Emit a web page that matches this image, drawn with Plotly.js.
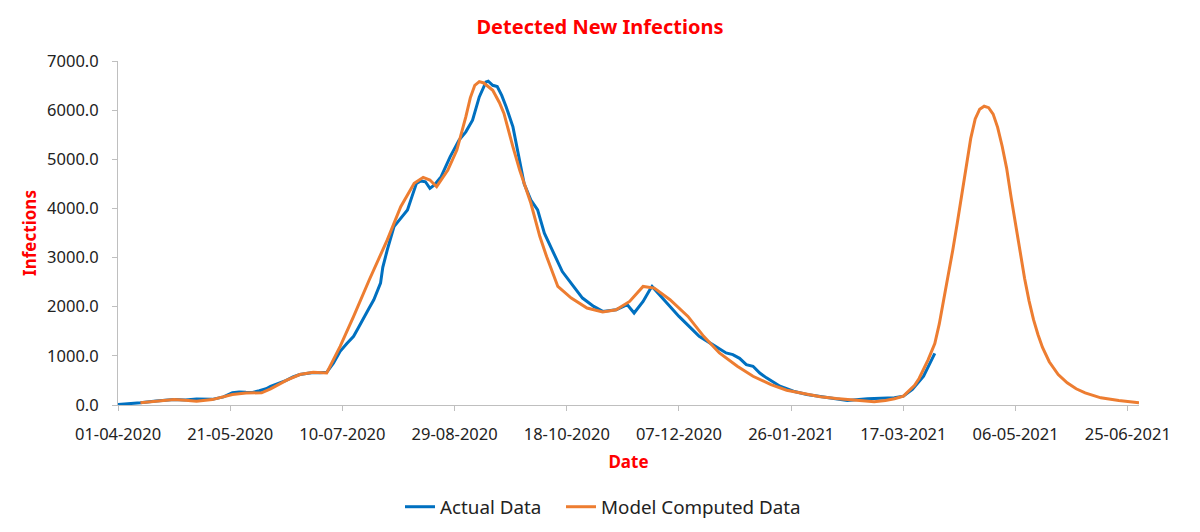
<!DOCTYPE html>
<html>
<head>
<meta charset="utf-8">
<script src="https://cdn.plot.ly/plotly-3.0.1.min.js"></script>
<style>html,body{margin:0;padding:0;background:#fff;}#chart{width:1200px;height:532px;}</style>
</head>
<body>
<div id="chart"></div>
<script>
// Actual data (blue)
const actualDates = [
 "2020-04-01","2020-04-06","2020-04-11","2020-04-18","2020-04-26","2020-05-01","2020-05-06","2020-05-13","2020-05-18","2020-05-22",
 "2020-05-25","2020-05-28","2020-05-31","2020-06-03","2020-06-06","2020-06-08","2020-06-12","2020-06-15","2020-06-18","2020-06-21",
 "2020-06-24","2020-06-27","2020-06-30","2020-07-03","2020-07-06","2020-07-09","2020-07-12","2020-07-15","2020-07-17","2020-07-19",
 "2020-07-22","2020-07-24","2020-07-27","2020-07-28","2020-07-30","2020-08-02","2020-08-05","2020-08-08","2020-08-10","2020-08-12",
 "2020-08-14","2020-08-16","2020-08-18","2020-08-20","2020-08-23","2020-08-27","2020-08-31","2020-09-03","2020-09-06","2020-09-09",
 "2020-09-12","2020-09-13","2020-09-15","2020-09-17","2020-09-19","2020-09-21","2020-09-24","2020-09-27","2020-09-29","2020-10-02",
 "2020-10-05","2020-10-08","2020-10-12","2020-10-16","2020-10-21","2020-10-25","2020-10-30","2020-11-03","2020-11-09","2020-11-14",
 "2020-11-17","2020-11-21","2020-11-24","2020-11-25","2020-11-29","2020-12-03","2020-12-07","2020-12-13","2020-12-16","2020-12-22",
 "2020-12-28","2020-12-31","2021-01-03","2021-01-06","2021-01-09","2021-01-12","2021-01-15","2021-01-21","2021-01-27","2021-02-02",
 "2021-02-11","2021-02-20","2021-03-01","2021-03-07","2021-03-13","2021-03-17","2021-03-21","2021-03-26","2021-03-31"
];
const actualValues = [
 10,20,45,80,110,100,120,115,165,248,
 265,258,255,290,330,380,440,500,570,620,
 640,660,655,665,850,1092,1250,1397,1560,1736,
 1980,2142,2480,2800,3157,3630,3800,3969,4240,4511,
 4560,4543,4409,4480,4645,5050,5390,5558,5796,6269,
 6573,6590,6506,6480,6300,6066,5660,4917,4500,4172,
 3969,3495,3090,2716,2412,2176,2006,1904,1939,2040,
 1872,2107,2345,2412,2209,2006,1803,1533,1397,1228,
 1060,1025,950,822,788,650,552,382,280,213,
 146,91,126,130,146,179,315,585,1050
];

// Model computed data (orange)
const modelDates = [
 "2020-04-11","2020-04-18","2020-04-26","2020-05-01","2020-05-06","2020-05-13","2020-05-18","2020-05-22","2020-05-28","2020-06-04",
 "2020-06-08","2020-06-15","2020-06-21","2020-06-27","2020-07-03","2020-07-09","2020-07-15","2020-07-22","2020-07-30","2020-08-05",
 "2020-08-11","2020-08-15","2020-08-18","2020-08-21","2020-08-26","2020-08-30","2020-09-03","2020-09-05","2020-09-07","2020-09-09",
 "2020-09-11","2020-09-13","2020-09-15","2020-09-18","2020-09-20","2020-09-24","2020-09-27","2020-10-02","2020-10-06","2020-10-09",
 "2020-10-14","2020-10-20","2020-10-27","2020-11-03","2020-11-09","2020-11-15","2020-11-21","2020-11-26","2020-12-03","2020-12-11",
 "2020-12-18","2020-12-25","2021-01-02","2021-01-09","2021-01-17","2021-01-24","2021-02-01","2021-02-08","2021-02-15","2021-02-23",
 "2021-03-04","2021-03-09","2021-03-13","2021-03-17","2021-03-20","2021-03-22","2021-03-24","2021-03-26","2021-03-28","2021-03-31",
 "2021-04-02","2021-04-04","2021-04-06","2021-04-08","2021-04-10","2021-04-12","2021-04-14","2021-04-16","2021-04-18","2021-04-20",
 "2021-04-22","2021-04-24","2021-04-26","2021-04-28","2021-04-30","2021-05-02","2021-05-04","2021-05-06","2021-05-08","2021-05-10",
 "2021-05-12","2021-05-14","2021-05-16","2021-05-18","2021-05-21","2021-05-25","2021-05-29","2021-06-02","2021-06-06","2021-06-13",
 "2021-06-21","2021-06-30"
];
const modelValues = [
 45,75,110,95,77,110,160,215,245,248,
 330,500,620,667,653,1194,1803,2548,3360,4036,
 4511,4632,4578,4442,4781,5187,5863,6250,6506,6580,
 6553,6480,6405,6150,5932,5254,4781,4105,3427,3021,
 2412,2176,1973,1892,1939,2107,2412,2379,2142,1803,
 1397,1060,788,585,416,301,233,166,130,97,
 65,90,126,179,300,400,540,721,920,1250,
 1650,2150,2620,3150,3700,4300,4870,5420,5820,6020,
 6080,6050,5920,5650,5270,4820,4230,3650,3100,2580,
 2120,1736,1430,1170,880,620,451,330,248,146,
 91,45
];

// Axis ticks
const xTickDates = ["2020-04-01","2020-05-21","2020-07-10","2020-08-29","2020-10-18","2020-12-07","2021-01-26","2021-03-17","2021-05-06","2021-06-25"];
const xTickLabels = ["01-04-2020","21-05-2020","10-07-2020","29-08-2020","18-10-2020","07-12-2020","26-01-2021","17-03-2021","06-05-2021","25-06-2021"];
const yTickValues = [0,1000,2000,3000,4000,5000,6000,7000];
const yTickLabels = ["0.0","1000.0","2000.0","3000.0","4000.0","5000.0","6000.0","7000.0"];

const FONT = "Noto Sans, Liberation Sans, sans-serif";

const traces = [
 {x: actualDates, y: actualValues, type: "scatter", mode: "lines", name: "Actual Data",
  line: {color: "#0070C0", width: 3}, legend: "legend"},
 {x: modelDates, y: modelValues, type: "scatter", mode: "lines", name: "Model Computed Data",
  line: {color: "#ED7D31", width: 3}, legend: "legend2"}
];

const legendBase = {orientation: "h", xanchor: "left", xref: "container", y: 25/532, yanchor: "middle", yref: "container",
   font: {size: 18.8, color: "#222"}, itemwidth: 30, bgcolor: "rgba(0,0,0,0)"};

const layout = {
 width: 1200, height: 532,
 margin: {l: 118, r: 61, t: 61, b: 127},
 paper_bgcolor: "#fff", plot_bgcolor: "#fff",
 font: {family: FONT, color: "#222", size: 16},
 title: {text: "<b>Detected New Infections</b>", font: {family: FONT, size: 20, color: "#FF0000"},
   x: 0.5, xanchor: "center", y: 1 - 27/532, yanchor: "middle", yref: "container"},
 xaxis: {type: "date", range: ["2020-04-01", "2021-06-30"], tickvals: xTickDates, ticktext: xTickLabels,
   showgrid: false, zeroline: false, showline: true, linecolor: "#BFBFBF", linewidth: 1,
   ticks: "outside", ticklen: 5, tickcolor: "#BFBFBF", tickfont: {size: 16.5, color: "#222"},
   ticklabelstandoff: 9,
   title: {text: "<b>Date</b>", font: {size: 17, color: "#FF0000"}, standoff: 12}},
 yaxis: {range: [0, 7000], tickvals: yTickValues, ticktext: yTickLabels,
   showgrid: false, zeroline: false, showline: true, linecolor: "#BFBFBF", linewidth: 1,
   ticks: "outside", ticklen: 5, tickcolor: "#BFBFBF", tickfont: {size: 16.5, color: "#222"},
   ticklabelstandoff: 10,
   title: {text: "<b>Infections</b>", font: {size: 17, color: "#FF0000"}, standoff: 6}},
 showlegend: true,
 legend: Object.assign({}, legendBase, {x: 400/1200}),
 legend2: Object.assign({}, legendBase, {x: 561/1200})
};

Plotly.newPlot("chart", traces, layout, {displayModeBar: false, staticPlot: true});
</script>
</body>
</html>
